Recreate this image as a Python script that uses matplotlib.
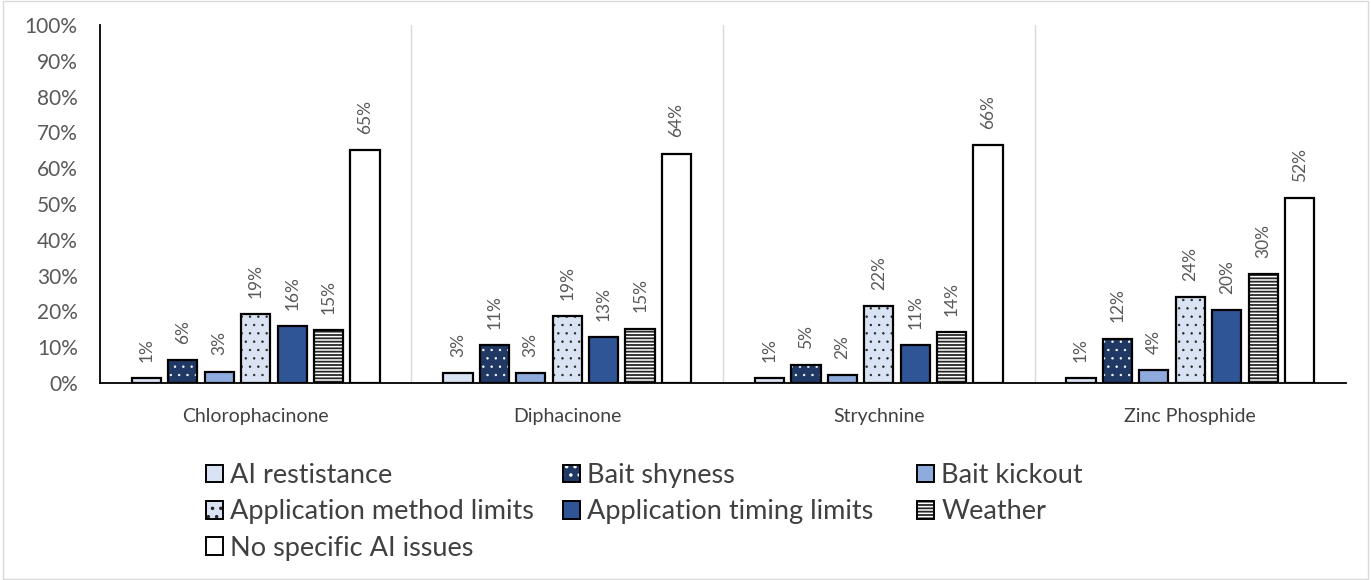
import matplotlib
matplotlib.use('Agg')
import matplotlib.pyplot as plt
from matplotlib.patches import Patch, Rectangle
from matplotlib.ticker import PercentFormatter
import numpy as np

plt.rcParams['font.family'] = ['Lato', 'DejaVu Sans']
plt.rcParams['hatch.linewidth'] = 1.3

# === data ===
baits = ['Chlorophacinone', 'Diphacinone', 'Strychnine', 'Zinc Phosphide']
issues = ['AI restistance', 'Bait shyness', 'Bait kickout',
          'Application method limits', 'Application timing limits',
          'Weather', 'No specific AI issues']
ai_resistance = [0.013, 0.028, 0.013, 0.013]
bait_shyness = [0.065, 0.106, 0.051, 0.124]
bait_kickout = [0.032, 0.028, 0.023, 0.037]
method_limits = [0.193, 0.188, 0.216, 0.240]
timing_limits = [0.160, 0.129, 0.106, 0.203]
weather = [0.147, 0.152, 0.143, 0.304]
no_issues = [0.650, 0.641, 0.664, 0.516]
series = [ai_resistance, bait_shyness, bait_kickout, method_limits,
          timing_limits, weather, no_issues]

# fill colour, hatch, hatch colour, hatch line width
styles = [
    ('#DAE3F3', None, None, 0),
    ('#203864', '..', 'white', 0.5),
    ('#8FAADC', None, None, 0),
    ('#DAE3F3', '..', '#262626', 0.5),
    ('#2F5597', None, None, 0),
    ('white', '-----', '#262626', 1.3),
    ('white', None, None, 0),
]


def hatch_lw(patch, lw):
    if lw and hasattr(patch, 'set_hatch_linewidth'):
        patch.set_hatch_linewidth(lw)


fig = plt.figure(figsize=(13.71, 5.8), dpi=100)
ax = fig.add_axes([0.0729, 0.3397, 0.9089, 0.6172])

x = np.arange(len(baits))
step = 0.117
width = 0.094
handles = []
for j, (vals, (fc, hatch, hc, hlw)) in enumerate(zip(series, styles)):
    pos = x + (j - 3) * step
    if hatch:
        bars = ax.bar(pos, vals, width, color=fc, edgecolor=hc, hatch=hatch,
                      linewidth=0, zorder=2)
        for b in bars:
            hatch_lw(b, hlw)
    else:
        ax.bar(pos, vals, width, color=fc, linewidth=0, zorder=2)
    ax.bar(pos, vals, width, fill=False, edgecolor='black', linewidth=1.6,
           zorder=3)
    for px, v in zip(pos, vals):
        ax.text(px, v + 0.045, f'{v:.0%}', rotation=90, ha='center',
                va='bottom', fontsize=12.5, color='#595959', zorder=4)
    base = Patch(facecolor=fc, edgecolor=hc if hatch else fc,
                 hatch=hatch, linewidth=0)
    hatch_lw(base, hlw)
    frame = Patch(fill=False, edgecolor='black', linewidth=1.4)
    handles.append((base, frame))

ax.set_xlim(-0.5, len(baits) - 0.5)
ax.set_ylim(0, 1.0)
ax.set_yticks(np.arange(0, 1.01, 0.1))
ax.yaxis.set_major_formatter(PercentFormatter(1.0, decimals=0))
ax.set_xticks(x)
ax.set_xticklabels(baits)
ax.tick_params(axis='x', length=0, pad=18, labelsize=14, labelcolor='#404040')
ax.tick_params(axis='y', length=0, pad=16, labelsize=15, labelcolor='#595959')

# light separators between groups
for b in np.arange(0.5, len(baits) - 0.5, 1.0):
    ax.axvline(b, color='#D9D9D9', linewidth=1.0, zorder=1)

for s in ['top', 'right']:
    ax.spines[s].set_visible(False)
ax.spines['left'].set_linewidth(1.3)
ax.spines['bottom'].set_linewidth(1.3)

# legend laid out row by row in three fixed columns
columns = [[0, 3, 6], [1, 4], [2, 5]]
col_x = [0.1503, 0.4107, 0.6690]
for idx, cx in zip(columns, col_x):
    fig.legend([handles[i] for i in idx], [issues[i] for i in idx],
               loc='upper left', bbox_to_anchor=(cx, 0.2017), ncol=1,
               frameon=False, fontsize=19.5, handlelength=0.63,
               handleheight=0.63, handletextpad=0.26, labelspacing=0.42,
               borderpad=0, borderaxespad=0, labelcolor='#404040')

# outer chart border
fig.patches.append(Rectangle((0.002, 0.002), 0.996, 0.996, transform=fig.transFigure,
                             fill=False, edgecolor='#D9D9D9', linewidth=1.0))

fig.savefig('out.png', dpi=100)
